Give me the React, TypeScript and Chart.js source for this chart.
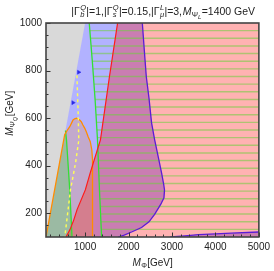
import React, { useEffect, useRef } from "react";
import { Chart, registerables } from "chart.js";

Chart.register(...registerables);

type P = { x: number; y: number };

const FONT = "'Liberation Sans', Arial, sans-serif";

// axis ticks
const xTickValues = [1000, 2000, 3000, 4000, 5000];
const yTickValues = [200, 400, 600, 800, 1000];
const xMinorTicks = [200, 400, 600, 800, 1200, 1400, 1600, 1800, 2200, 2400, 2600, 2800, 3200, 3400, 3600, 3800, 4200, 4400, 4600, 4800];
const yMinorTicks = [150, 250, 300, 350, 450, 500, 550, 650, 700, 750, 850, 900, 950];

// boundaries (M_Phi, M_PsiQ) in GeV
const diagonalRegion: P[] = [{ x: 100, y: 100 }, { x: 100, y: 1000 }, { x: 1000, y: 1000 }];
const violetUpper: P[] = [
  { x: 2317, y: 1000 }, { x: 2377, y: 850 }, { x: 2409, y: 774 }, { x: 2470, y: 685 }, { x: 2530, y: 580 },
  { x: 2600, y: 510 }, { x: 2680, y: 440 }, { x: 2760, y: 370 }, { x: 2810, y: 320 }, { x: 2828, y: 298 },
  { x: 2815, y: 265 }, { x: 2740, y: 237 }, { x: 2600, y: 195 }, { x: 2470, y: 164 }, { x: 2300, y: 140 },
  { x: 2083, y: 122 }, { x: 1900, y: 108 }, { x: 1760, y: 100 },
];
const violetLower: P[] = [
  { x: 2960, y: 100 }, { x: 3300, y: 105 }, { x: 3610, y: 110 }, { x: 4000, y: 113 }, { x: 4362, y: 116 }, { x: 5000, y: 121 },
];
const redLine: P[] = [
  { x: 1748, y: 1000 }, { x: 1560, y: 774 }, { x: 1353, y: 508 }, { x: 1118, y: 370 }, { x: 1005, y: 298 },
  { x: 813, y: 214 }, { x: 738, y: 171 }, { x: 650, y: 130 }, { x: 560, y: 100 },
];
const greenLineLeft: P[] = [{ x: 548, y: 548 }, { x: 572, y: 508 }, { x: 647, y: 298 }, { x: 699, y: 100 }];
const greenLineRight: P[] = [
  { x: 1095, y: 1000 }, { x: 1170, y: 830 }, { x: 1231, y: 676 }, { x: 1285, y: 510 }, { x: 1330, y: 300 }, { x: 1380, y: 100 },
];
const orangeContour: P[] = [
  { x: 100, y: 100 }, { x: 530, y: 530 }, { x: 600, y: 552 }, { x: 647, y: 564 }, { x: 690, y: 580 },
  { x: 722, y: 592 }, { x: 760, y: 597 }, { x: 800, y: 600 }, { x: 840, y: 596 }, { x: 875, y: 592 },
  { x: 915, y: 584 }, { x: 950, y: 571 }, { x: 990, y: 558 }, { x: 1028, y: 543 }, { x: 1070, y: 522 },
  { x: 1103, y: 508 }, { x: 1119, y: 501 }, { x: 1155, y: 466 }, { x: 1171, y: 424 }, { x: 1171, y: 100 },
];
const yellowDashed: P[] = [
  { x: 812, y: 780 }, { x: 840, y: 620 }, { x: 855, y: 508 }, { x: 780, y: 411 }, { x: 663, y: 298 }, { x: 533, y: 100 },
];
const arrowPoints: P[] = [{ x: 852, y: 793 }, { x: 722, y: 665 }];

const blueRegionA: P[] = [{ x: 100, y: 100 }, { x: 100, y: 1000 }, ...violetUpper];
const blueRegionB: P[] = [...violetLower, { x: 5000, y: 100 }];
const redRegion: P[] = [...redLine, { x: 5000, y: 100 }, { x: 5000, y: 1000 }];
const greenRegion: P[] = [{ x: 100, y: 100 }, ...greenLineLeft];

function xOnCurve(curve: P[], y: number): number {
  for (let i = 0; i < curve.length - 1; i++) {
    const a = curve[i], b = curve[i + 1];
    const lo = Math.min(a.y, b.y), hi = Math.max(a.y, b.y);
    if (y >= lo && y <= hi) {
      const t = (y - a.y) / (b.y - a.y || 1);
      return a.x + t * (b.x - a.x);
    }
  }
  return curve[curve.length - 1].x;
}

const hatchCount = 28;
const hatchData: P[] = [];
for (let k = 1; k < hatchCount; k++) {
  const y = 100 + (k * 900) / hatchCount;
  hatchData.push({ x: xOnCurve(greenLineRight, y), y }, { x: 5000, y }, { x: NaN, y: NaN });
}

type Part = { base: string; it?: boolean; sub?: string; subIt?: boolean; sup?: string; supIt?: boolean; subsub?: string };

function drawRich(ctx: CanvasRenderingContext2D, parts: Part[], cx: number, cy: number, size: number) {
  const f = (s: number, it?: boolean) => `${it ? "italic " : ""}${s}px ${FONT}`;
  const ss = size * 0.72, sss = size * 0.58;
  const widths = parts.map((p) => {
    ctx.font = f(size, p.it);
    const w = ctx.measureText(p.base).width;
    let ws = 0, wsup = 0, wss = 0;
    if (p.sub) { ctx.font = f(ss, p.subIt); ws = ctx.measureText(p.sub).width; }
    if (p.sup) { ctx.font = f(ss, p.supIt); wsup = ctx.measureText(p.sup).width; }
    if (p.subsub) { ctx.font = f(sss, true); wss = ctx.measureText(p.subsub).width; }
    return { w, extra: Math.max(ws + wss, wsup) + 0.6, ws };
  });
  const total = widths.reduce((a, b) => a + b.w + b.extra, 0);
  let x = cx - total / 2;
  const base = cy + size * 0.35;
  ctx.textAlign = "left";
  ctx.textBaseline = "alphabetic";
  parts.forEach((p, i) => {
    ctx.font = f(size, p.it);
    ctx.fillText(p.base, x, base);
    x += widths[i].w + 0.3;
    if (p.sub) { ctx.font = f(ss, p.subIt); ctx.fillText(p.sub, x, base + size * 0.25); }
    if (p.subsub) { ctx.font = f(sss, true); ctx.fillText(p.subsub, x + widths[i].ws, base + size * 0.42); }
    if (p.sup) { ctx.font = f(ss, p.supIt); ctx.fillText(p.sup, x, base - size * 0.42); }
    x += widths[i].extra - 0.3;
  });
}

const titleParts: Part[] = [
  { base: "|Γ", sub: "b", subIt: true, sup: "Q", supIt: true },
  { base: "|=1,|Γ", sub: "s", subIt: true, sup: "Q", supIt: true },
  { base: "|=0.15,|Γ", sub: "μ", subIt: true, sup: "L", supIt: true },
  { base: "|=3," },
  { base: "M", it: true, sub: "Ψ", subsub: "L" },
  { base: "=1400 GeV" },
];
const xTitleParts: Part[] = [{ base: "M", it: true, sub: "Φ" }, { base: "[GeV]" }];
const yTitleParts: Part[] = [{ base: "M", it: true, sub: "Ψ", subsub: "Q" }, { base: "[GeV]" }];

const decor = {
  id: "decor",
  afterDatasetsDraw(chart: any) {
    const ctx: CanvasRenderingContext2D = chart.ctx;
    const { left, right, top, bottom } = chart.chartArea;
    const xs = chart.scales.x, ys = chart.scales.y;
    ctx.save();
    ctx.strokeStyle = "#333";
    ctx.lineWidth = 1;
    const tick = (vals: number[], len: number) => {
      vals.forEach((v) => {
        const px = Math.round(xs.getPixelForValue(v)) + 0.5;
        ctx.beginPath(); ctx.moveTo(px, bottom); ctx.lineTo(px, bottom - len); ctx.stroke();
      });
    };
    const tickY = (vals: number[], len: number) => {
      vals.forEach((v) => {
        const py = Math.round(ys.getPixelForValue(v)) + 0.5;
        ctx.beginPath(); ctx.moveTo(left, py); ctx.lineTo(left + len, py); ctx.stroke();
      });
    };
    tick(xTickValues, 4.5); tick(xMinorTicks, 2.5);
    tickY(yTickValues, 4.5); tickY(yMinorTicks, 2.5);
    ctx.strokeStyle = "#444";
    ctx.lineWidth = 1.6;
    ctx.strokeRect(left, top, right - left, bottom - top);
    ctx.restore();
  },
  afterDraw(chart: any) {
    const ctx: CanvasRenderingContext2D = chart.ctx;
    ctx.save();
    ctx.fillStyle = "#222";
    drawRich(ctx, titleParts, 163.5, 11, 10.5);
    drawRich(ctx, xTitleParts, 153, 262, 10);
    ctx.translate(9, 113);
    ctx.rotate(-Math.PI / 2);
    drawRich(ctx, yTitleParts, 0, 0, 10);
    ctx.restore();
  },
};

function region(data: P[], color: string, order: number) {
  return {
    data, showLine: true, fill: "shape", backgroundColor: color, borderWidth: 0, borderColor: "transparent",
    pointRadius: 0, tension: 0, order,
  };
}
function curve(data: P[], color: string, width: number, order: number, dash: number[] = []) {
  return {
    data, showLine: true, fill: false, borderColor: color, borderWidth: width, borderDash: dash,
    pointRadius: 0, tension: 0, order, spanGaps: false,
  };
}

const plainLabel = (v: any) => String(v);

export default function App() {
  const ref = useRef<HTMLCanvasElement>(null);
  useEffect(() => {
    const chart = new Chart(ref.current!, {
      type: "scatter",
      data: {
        datasets: [
          region(blueRegionA, "rgba(0,0,255,0.3)", 100),
          region(blueRegionB, "rgba(0,0,255,0.3)", 99),
          region(redRegion, "rgba(255,0,0,0.3)", 98),
          region(orangeContour, "rgba(255,128,0,0.2)", 97),
          region(greenRegion, "rgba(0,255,0,0.2)", 96),
          region(diagonalRegion, "rgb(217,217,217)", 95),
          curve(hatchData, "rgba(110,205,60,0.55)", 1.4, 90),
          curve(greenLineLeft, "#33e033", 1.3, 20),
          curve(greenLineRight, "#33e033", 1.3, 19),
          curve(orangeContour, "#ff8c00", 1.3, 18),
          curve(redLine, "#ff1a1a", 1.2, 17),
          curve(violetUpper, "#5b1bd6", 1.3, 16),
          curve(violetLower, "#5b1bd6", 1.3, 15),
          curve(yellowDashed, "#ffff55", 1.4, 14, [3, 3]),
          {
            data: arrowPoints, pointStyle: "triangle", rotation: 90, pointRadius: 2.3,
            backgroundColor: "#2a2ae6", borderColor: "#2a2ae6", borderWidth: 0.5, order: 1,
          },
        ] as any,
      },
      options: {
        responsive: false,
        animation: false,
        devicePixelRatio: 1,
        layout: { padding: { top: 23, right: 13, left: 0, bottom: 0 } },
        plugins: { legend: { display: false }, tooltip: { enabled: false }, title: { display: false } },
        scales: {
          x: {
            type: "linear", min: 100, max: 5000,
            afterBuildTicks: (s: any) => { s.ticks = xTickValues.map((v) => ({ value: v })); },
            afterFit: (s: any) => { s.height = 34; },
            grid: { display: false, drawTicks: false }, border: { display: false },
            ticks: { font: { size: 10, family: FONT }, color: "#222", padding: 4, maxRotation: 0, autoSkip: false, callback: plainLabel },
          },
          y: {
            type: "linear", min: 100, max: 1000,
            afterBuildTicks: (s: any) => { s.ticks = yTickValues.map((v) => ({ value: v })); },
            afterFit: (s: any) => { s.width = 46; },
            grid: { display: false, drawTicks: false }, border: { display: false },
            ticks: { font: { size: 10, family: FONT }, color: "#222", padding: 4, autoSkip: false, callback: plainLabel },
          },
        },
      } as any,
      plugins: [decor],
    });
    return () => chart.destroy();
  }, []);
  return (
    <div style={{ position: "absolute", left: 0, top: 0, width: 274, height: 271 }}>
      <canvas ref={ref} width={274} height={271} style={{ width: 274, height: 271, display: "block" }} />
    </div>
  );
}
